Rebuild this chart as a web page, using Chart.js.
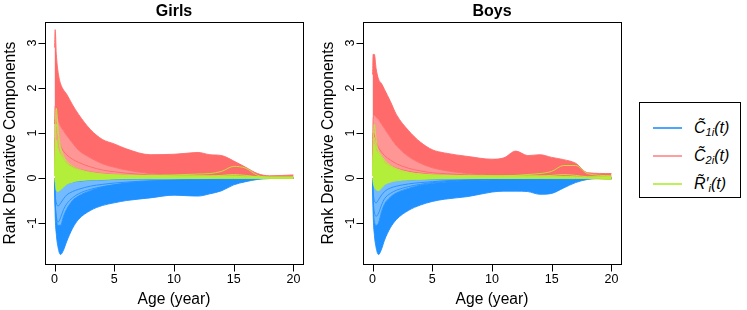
<!DOCTYPE html>
<html>
<head>
<meta charset="utf-8">
<script src="https://cdn.jsdelivr.net/npm/chart.js@4"></script>
<style>
  body { margin: 0; background: #fff; }
  #wrap { position: relative; width: 747px; height: 310px; overflow: hidden; }
  canvas { position: absolute; top: 0; }
  #legend { position: absolute; left: 639px; top: 102px; width: 102px; height: 96px;
            border: 1px solid #000; box-sizing: border-box; font-family: "Liberation Sans", Arial, sans-serif; }
  .row { position: absolute; left: 0; height: 24px; width: 100px; }
  .swatch { position: absolute; left: 13px; top: 11px; width: 29px; height: 2px; }
  .lab { position: absolute; left: 54px; top: 1px; font-size: 16px; font-style: italic; line-height: 22px; white-space: nowrap; }
  .lab sub { font-size: 11px; vertical-align: -3px; }
</style>
</head>
<body>
<div id="wrap">
  <canvas id="girls" width="318" height="310" style="left:0px"></canvas>
  <canvas id="boys" width="318" height="310" style="left:318px"></canvas>
  <div id="legend">
    <div class="row" style="top:13px"><div class="swatch" style="background:rgba(30,144,255,0.8)"></div><div class="lab">C&#771;<sub>1i</sub>(t)</div></div>
    <div class="row" style="top:41px"><div class="swatch" style="background:rgba(255,106,106,0.65)"></div><div class="lab">C&#771;<sub>2i</sub>(t)</div></div>
    <div class="row" style="top:69px"><div class="swatch" style="background:rgba(179,238,58,0.85)"></div><div class="lab">R&#771;&#8242;<sub>i</sub>(t)</div></div>
  </div>
</div>
<script>
// age grid (years) shared by every curve
const ages = [0, 0.05, 0.15, 0.3, 0.5, 0.75, 1, 1.5, 2, 3, 4, 5, 6, 8, 10, 11, 12, 13, 14, 15, 16, 17, 18, 20];
const xTicks = [0, 5, 10, 15, 20];
const yTicks = [-1, 0, 1, 2, 3];

// ---- Girls ----
const girlsRedTop   = [2.9, 3.3, 2.75, 2.35, 2.1, 1.96, 1.87, 1.63, 1.42, 1.08, 0.86, 0.76, 0.65, 0.52, 0.53, 0.55, 0.57, 0.52, 0.5, 0.38, 0.24, 0.1, 0.05, 0.07];
const girlsRedMid   = [1.2, 1.6, 1.5, 1.3, 1.15, 1.05, 0.95, 0.78, 0.62, 0.45, 0.32, 0.24, 0.18, 0.1, 0.06, 0.05, 0.05, 0.04, 0.04, 0.04, 0.03, 0.02, 0.01, 0.0];
const girlsRedLow   = [0.15, 0.3, 0.5, 0.42, 0.32, 0.24, 0.19, 0.14, 0.1, 0.07, 0.05, 0.04, 0.03, 0.02, 0.02, 0.02, 0.02, 0.02, 0.02, 0.02, 0.01, 0.01, 0.0, 0.0];
const girlsRedLine1 = [0.3, 1.3, 1.15, 0.9, 0.72, 0.6, 0.52, 0.42, 0.35, 0.25, 0.18, 0.14, 0.11, 0.07, 0.05, 0.04, 0.04, 0.04, 0.03, 0.03, 0.02, 0.01, 0.01, 0.0];
const girlsRedLine2 = [0.2, 0.9, 0.8, 0.6, 0.48, 0.4, 0.33, 0.26, 0.2, 0.14, 0.1, 0.08, 0.06, 0.04, 0.03, 0.03, 0.03, 0.03, 0.02, 0.02, 0.02, 0.01, 0.0, 0.0];

const girlsGreenTop   = [0.05, 0.4, 0.85, 0.65, 0.52, 0.42, 0.33, 0.23, 0.17, 0.11, 0.08, 0.07, 0.06, 0.05, 0.045, 0.045, 0.045, 0.045, 0.045, 0.05, 0.04, 0.03, 0.02, 0.02];
const girlsGreenBot   = [0.0, -0.1, -0.28, -0.3, -0.26, -0.2, -0.14, -0.09, -0.06, -0.04, -0.03, -0.02, -0.015, -0.01, -0.01, -0.01, -0.01, -0.01, -0.01, -0.01, -0.01, -0.01, -0.01, -0.01];
const girlsGreenSpike = [0.05, 0.8, 1.55, 1.05, 0.7, 0.5, 0.38, 0.27, 0.2, 0.13, 0.09, 0.07, 0.06, 0.05, 0.05, 0.05, 0.05, 0.05, 0.06, 0.08, 0.06, 0.03, 0.02, 0.02];
const girlsGreenLate  = [0.05, 0.5, 1.2, 0.9, 0.62, 0.45, 0.35, 0.24, 0.18, 0.12, 0.09, 0.07, 0.06, 0.06, 0.07, 0.08, 0.09, 0.1, 0.15, 0.26, 0.22, 0.06, 0.02, 0.02];

const girlsBlueLow   = [-0.05, -0.8, -1.25, -1.55, -1.7, -1.6, -1.42, -1.12, -0.92, -0.72, -0.61, -0.55, -0.5, -0.44, -0.38, -0.39, -0.4, -0.35, -0.28, -0.15, -0.08, -0.03, -0.01, 0.0];
const girlsBlueMid   = [-0.05, -0.55, -0.9, -1.05, -1.05, -0.85, -0.7, -0.5, -0.4, -0.28, -0.2, -0.15, -0.11, -0.07, -0.05, -0.04, -0.04, -0.03, -0.03, -0.02, -0.015, -0.01, 0.0, 0.0];
const girlsBlueHigh  = [0.0, -0.1, -0.2, -0.25, -0.22, -0.17, -0.13, -0.09, -0.07, -0.05, -0.04, -0.03, -0.03, -0.02, -0.02, -0.02, -0.02, -0.02, -0.015, -0.01, -0.01, 0.0, 0.0, 0.0];
const girlsBlueLine1 = [0.0, -0.35, -0.55, -0.62, -0.56, -0.46, -0.38, -0.3, -0.25, -0.18, -0.14, -0.11, -0.09, -0.06, -0.05, -0.04, -0.04, -0.03, -0.02, -0.02, -0.01, 0.0, 0.0, 0.0];
const girlsBlueLine2 = [0.0, -0.5, -0.85, -0.98, -0.88, -0.7, -0.58, -0.44, -0.35, -0.25, -0.19, -0.15, -0.12, -0.08, -0.06, -0.05, -0.05, -0.04, -0.03, -0.02, -0.02, -0.01, 0.0, 0.0];

// ---- Boys ----
const boysRedTop   = [2.3, 2.75, 2.75, 2.43, 2.2, 2.1, 1.97, 1.7, 1.41, 1.06, 0.8, 0.63, 0.56, 0.48, 0.42, 0.45, 0.6, 0.5, 0.52, 0.46, 0.41, 0.33, 0.12, 0.1];
const boysRedMid   = [0.5, 1.3, 1.4, 1.35, 1.3, 1.2, 1.1, 0.9, 0.72, 0.48, 0.33, 0.23, 0.17, 0.1, 0.06, 0.05, 0.05, 0.05, 0.05, 0.05, 0.04, 0.03, 0.01, 0.0];
const boysRedLow   = [0.1, 0.25, 0.45, 0.45, 0.4, 0.33, 0.27, 0.2, 0.15, 0.1, 0.07, 0.05, 0.04, 0.03, 0.02, 0.02, 0.02, 0.02, 0.02, 0.02, 0.02, 0.01, 0.0, -0.03];
const boysRedLine1 = [0.3, 1.0, 0.95, 0.8, 0.68, 0.58, 0.5, 0.4, 0.32, 0.22, 0.16, 0.12, 0.1, 0.07, 0.05, 0.04, 0.04, 0.04, 0.04, 0.03, 0.03, 0.02, 0.01, 0.0];
const boysRedLine2 = [0.2, 0.6, 0.6, 0.55, 0.5, 0.43, 0.36, 0.28, 0.22, 0.15, 0.11, 0.08, 0.06, 0.04, 0.03, 0.03, 0.03, 0.03, 0.03, 0.02, 0.02, 0.01, 0.0, 0.0];

const boysGreenTop   = [0.05, 0.45, 0.75, 0.62, 0.55, 0.45, 0.36, 0.25, 0.18, 0.11, 0.08, 0.06, 0.05, 0.045, 0.04, 0.04, 0.04, 0.04, 0.04, 0.04, 0.04, 0.03, 0.02, 0.03];
const boysGreenBot   = [0.0, -0.1, -0.2, -0.26, -0.28, -0.22, -0.15, -0.09, -0.06, -0.04, -0.03, -0.02, -0.015, -0.01, -0.01, -0.01, -0.01, -0.01, -0.01, -0.01, -0.01, -0.01, -0.01, -0.03];
const boysGreenSpike = [0.05, 0.7, 1.2, 0.85, 0.58, 0.46, 0.38, 0.27, 0.2, 0.12, 0.09, 0.07, 0.06, 0.05, 0.05, 0.05, 0.05, 0.05, 0.05, 0.06, 0.08, 0.06, 0.03, 0.03];
const boysGreenLate  = [0.05, 0.4, 0.9, 0.7, 0.6, 0.5, 0.4, 0.28, 0.21, 0.13, 0.09, 0.07, 0.06, 0.05, 0.05, 0.05, 0.06, 0.08, 0.1, 0.15, 0.28, 0.28, 0.1, 0.05];

const boysBlueLow   = [-0.05, -0.8, -1.25, -1.55, -1.7, -1.58, -1.38, -1.1, -0.92, -0.72, -0.6, -0.52, -0.47, -0.41, -0.31, -0.29, -0.29, -0.3, -0.36, -0.34, -0.22, -0.1, -0.03, 0.0];
const boysBlueMid   = [-0.05, -0.6, -0.95, -1.05, -1.0, -0.75, -0.58, -0.42, -0.33, -0.23, -0.16, -0.12, -0.09, -0.06, -0.04, -0.03, -0.03, -0.03, -0.03, -0.03, -0.03, -0.02, -0.01, 0.0];
const boysBlueHigh  = [0.0, -0.05, -0.1, -0.12, -0.12, -0.1, -0.08, -0.06, -0.05, -0.04, -0.03, -0.025, -0.02, -0.02, -0.02, -0.02, -0.02, -0.02, -0.02, -0.02, -0.02, -0.01, 0.0, 0.0];
const boysBlueLine1 = [0.0, -0.3, -0.5, -0.55, -0.48, -0.38, -0.3, -0.22, -0.18, -0.13, -0.1, -0.08, -0.06, -0.04, -0.03, -0.03, -0.03, -0.03, -0.02, -0.02, -0.02, -0.01, 0.0, 0.0];
const boysBlueLine2 = [0.0, -0.45, -0.75, -0.85, -0.78, -0.6, -0.46, -0.34, -0.27, -0.19, -0.14, -0.1, -0.08, -0.05, -0.04, -0.03, -0.03, -0.03, -0.03, -0.03, -0.02, -0.01, 0.0, 0.0];

const BLUE = 'rgb(30,144,255)';
const RED = 'rgb(255,106,106)';
const GREEN = 'rgb(179,238,58)';
const FONT = '"Liberation Sans", Arial, Helvetica, sans-serif';

function pts(arr) {
    return ages.map((a, i) => ({ x: a, y: arr[i] }));
}

function line(arr, color, order, fill, fillColor) {
    return {
        data: pts(arr),
        borderColor: color,
        borderWidth: 0.9,
        pointRadius: 0,
        cubicInterpolationMode: 'monotone',
        order: order,
        fill: fill || false,
        backgroundColor: fillColor || color
    };
}

function panelData(g) {
    return [
        // green on top
        line(g.greenTop, GREEN, 1, '+1', GREEN),
        line(g.greenBot, GREEN, 1),
        line(g.greenSpike, GREEN, 1),
        line(g.greenLate, GREEN, 1),
        // red
        line(g.redTop, RED, 2, '+1', RED),
        line(g.redMid, RED, 2, '+1', 'rgba(255,106,106,0.7)'),
        line(g.redLow, RED, 2),
        line(g.redLine1, RED, 2),
        line(g.redLine2, RED, 2),
        // blue underneath
        line(g.blueLow, BLUE, 3, '+1', BLUE),
        line(g.blueMid, BLUE, 3, '+1', 'rgba(30,144,255,0.62)'),
        line(g.blueHigh, BLUE, 3),
        line(g.blueLine1, BLUE, 3),
        line(g.blueLine2, BLUE, 3)
    ];
}

// box, R-style axes, labels and panel title
const framePlugin = {
    id: 'frame',
    afterDraw(chart, args, opts) {
        const ctx = chart.ctx, a = chart.chartArea;
        const xs = chart.scales.x, ys = chart.scales.y;
        ctx.save();
        ctx.strokeStyle = '#000';
        ctx.fillStyle = '#000';
        ctx.lineWidth = 1;
        ctx.strokeRect(Math.round(a.left) + 0.5, Math.round(a.top) + 0.5,
            Math.round(a.right - a.left), Math.round(a.bottom - a.top));

        const xb = Math.round(a.bottom) + 0.5;
        const yl = Math.round(a.left) + 0.5;
        ctx.beginPath();
        xTicks.forEach(v => {
            const px = Math.round(xs.getPixelForValue(v)) + 0.5;
            ctx.moveTo(px, xb);
            ctx.lineTo(px, xb + 7);
        });
        yTicks.forEach(v => {
            const py = Math.round(ys.getPixelForValue(v)) + 0.5;
            ctx.moveTo(yl, py);
            ctx.lineTo(yl - 7, py);
        });
        ctx.stroke();

        ctx.font = '12.5px ' + FONT;
        ctx.textAlign = 'center';
        ctx.textBaseline = 'alphabetic';
        xTicks.forEach(v => {
            ctx.fillText(String(v), xs.getPixelForValue(v), a.bottom + 19);
        });
        yTicks.forEach(v => {
            ctx.save();
            ctx.translate(a.left - 9, ys.getPixelForValue(v));
            ctx.rotate(-Math.PI / 2);
            ctx.fillText(String(v), 0, 0);
            ctx.restore();
        });

        ctx.font = '15.6px ' + FONT;
        ctx.fillText('Age (year)', (a.left + a.right) / 2, 304);
        ctx.save();
        ctx.translate(a.left - 30, (a.top + a.bottom) / 2);
        ctx.rotate(-Math.PI / 2);
        ctx.fillText('Rank Derivative Components', 0, 0);
        ctx.restore();

        ctx.font = 'bold 16px ' + FONT;
        ctx.fillText(opts.title, (a.left + a.right) / 2, 16);
        ctx.restore();
    }
};

function makeChart(id, title, g) {
    new Chart(document.getElementById(id), {
        type: 'line',
        data: { datasets: panelData(g) },
        options: {
            responsive: false,
            animation: false,
            devicePixelRatio: 1,
            events: [],
            layout: { padding: { left: 45, right: 15, top: 22, bottom: 46 } },
            scales: {
                x: { type: 'linear', min: -0.8, max: 20.8, display: false },
                y: { type: 'linear', min: -1.91, max: 3.47, display: false }
            },
            plugins: {
                legend: { display: false },
                tooltip: { enabled: false },
                frame: { title: title }
            }
        },
        plugins: [framePlugin]
    });
}

makeChart('girls', 'Girls', {
    redTop: girlsRedTop, redMid: girlsRedMid, redLow: girlsRedLow, redLine1: girlsRedLine1, redLine2: girlsRedLine2,
    greenTop: girlsGreenTop, greenBot: girlsGreenBot, greenSpike: girlsGreenSpike, greenLate: girlsGreenLate,
    blueLow: girlsBlueLow, blueMid: girlsBlueMid, blueHigh: girlsBlueHigh, blueLine1: girlsBlueLine1, blueLine2: girlsBlueLine2
});
makeChart('boys', 'Boys', {
    redTop: boysRedTop, redMid: boysRedMid, redLow: boysRedLow, redLine1: boysRedLine1, redLine2: boysRedLine2,
    greenTop: boysGreenTop, greenBot: boysGreenBot, greenSpike: boysGreenSpike, greenLate: boysGreenLate,
    blueLow: boysBlueLow, blueMid: boysBlueMid, blueHigh: boysBlueHigh, blueLine1: boysBlueLine1, blueLine2: boysBlueLine2
});
</script>
</body>
</html>
